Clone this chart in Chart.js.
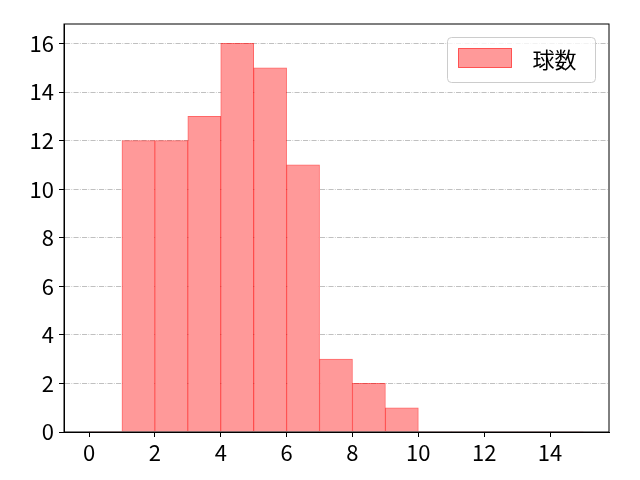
<!DOCTYPE html>
<html>
<head>
<meta charset="utf-8">
<script src="https://cdn.jsdelivr.net/npm/chart.js@4/dist/chart.umd.min.js"></script>
<style>
html,body{margin:0;padding:0;background:#fff;}
#wrap{width:640px;height:480px;}
</style>
</head>
<body>
<div id="wrap"><canvas id="c" width="640" height="480"></canvas></div>
<script>
const binStarts = [0,1,2,3,4,5,6,7,8,9,10,11,12,13,14];
const counts = [0,12,12,13,16,15,11,3,2,1,0,0,0,0,0];
const seriesLabel = '球数';
const xTicks = [0,2,4,6,8,10,12,14];
const yTicks = [0,2,4,6,8,10,12,14,16];

const FONT = '"Noto Sans CJK JP", "Noto Sans", sans-serif';
const FILL = 'rgb(255,153,153)';
const EDGE = 'rgba(255,0,0,0.6)';

const points = binStarts.map((b,i)=>({x:b+0.5, y:counts[i]}));

const framePlugin = {
  id:'frame',
  afterDraw(chart){
    const {ctx, chartArea:a} = chart;
    ctx.save();
    ctx.strokeStyle = '#000';
    ctx.lineWidth = 1;
    ctx.strokeRect(a.left, a.top, a.right-a.left, a.bottom-a.top);
    // legend
    const bx = a.right - 161.5, by = a.top + 13.5, bw = 148, bh = 45;
    ctx.fillStyle = 'rgba(255,255,255,0.8)';
    ctx.strokeStyle = '#cccccc';
    ctx.beginPath();
    ctx.roundRect(bx, by, bw, bh, 4);
    ctx.fill(); ctx.stroke();
    ctx.fillStyle = FILL;
    ctx.fillRect(bx+11, by+11, 53, 19);
    ctx.strokeStyle = EDGE;
    ctx.strokeRect(bx+11, by+11, 53, 19);
    ctx.fillStyle = '#000';
    ctx.font = '22px ' + FONT;
    ctx.textBaseline = 'middle';
    ctx.textAlign = 'left';
    ctx.fillText(chart.data.datasets[0].label, bx+85, by+22.5);
    ctx.restore();
  }
};

new Chart(document.getElementById('c'), {
  type:'bar',
  data:{
    datasets:[{
      label: seriesLabel,
      data: points,
      backgroundColor: FILL,
      borderColor: EDGE,
      borderWidth: c => (c.raw && c.raw.y) ? 1 : 0,
      borderSkipped: 'start',
      categoryPercentage: 1,
      barPercentage: 1
    }]
  },
  options:{
    responsive:false,
    animation:false,
    devicePixelRatio:1,
    layout:{padding:{top:24, right:31, left:0, bottom:0}},
    plugins:{legend:{display:false}, tooltip:{enabled:false}},
    scales:{
      x:{
        type:'linear',
        offset:false,
        min:-0.76, max:15.79,
        afterBuildTicks: s => { s.ticks = xTicks.map(v=>({value:v})); },
        afterFit: s => { s.height = 48; },
        grid:{display:true, offset:false, drawOnChartArea:false, color:'#000', tickColor:'#000', tickLength:5, lineWidth:1},
        border:{display:true, color:'#000', width:1},
        ticks:{color:'#000', font:{family:FONT, size:22}, padding:2, maxRotation:0, autoSkip:false}
      },
      y:{
        min:0, max:16.8,
        afterBuildTicks: s => { s.ticks = yTicks.map(v=>({value:v})); },
        afterFit: s => { s.width = 64; },
        grid:{display:true, drawOnChartArea:true, color:'#b0b0b0', lineWidth:0.8,
              tickColor:'#000', tickWidth:1, tickLength:5, tickBorderDash:[]},
        border:{display:true, color:'#000', width:1, dash:[5.1,1.3,0.8,1.3]},
        ticks:{color:'#000', font:{family:FONT, size:22}, padding:5, autoSkip:false}
      }
    }
  },
  plugins:[framePlugin]
});
</script>
</body>
</html>
